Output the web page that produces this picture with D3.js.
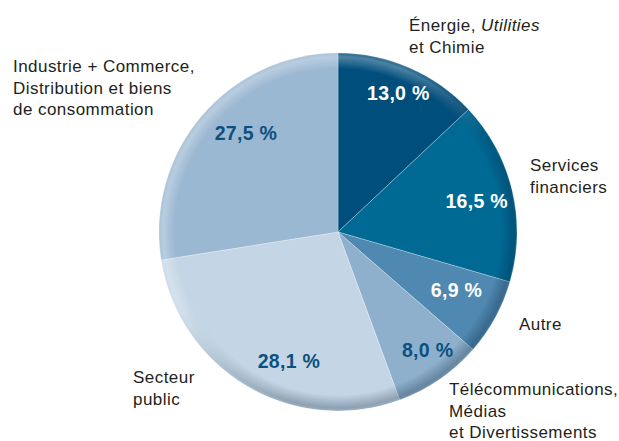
<!DOCTYPE html>
<html lang="fr">
<head>
<meta charset="utf-8">
<script src="https://cdn.jsdelivr.net/npm/d3@7"></script>
<style>
  html, body { margin: 0; padding: 0; background: #fff; }
  svg { display: block; }
  text { font-family: "Liberation Sans", Arial, Helvetica, sans-serif; }
</style>
</head>
<body>
<svg id="chart" width="619" height="441"></svg>
<script>
// Répartition par secteur (en %), sens horaire depuis midi
const sectors = [
  "Énergie, Utilities et Chimie",
  "Services financiers",
  "Autre",
  "Télécommunications, Médias et Divertissements",
  "Secteur public",
  "Industrie + Commerce, Distribution et biens de consommation"
];
const shares = [13.0, 16.5, 6.9, 8.0, 28.1, 27.5];
const sliceColors = ["#004e7c", "#006a95", "#4f88b1", "#8eb0cc", "#c4d6e5", "#9bb8d2"];
const valueColors = ["#ffffff", "#ffffff", "#ffffff", "#0b507f", "#0b507f", "#0b507f"];

// Libellés de catégorie : lignes (segments [texte, italique])
const categoryLines = [
  [[["Énergie, ", false], ["Utilities", true]], [["et Chimie", false]]],
  [[["Services", false]], [["financiers", false]]],
  [[["Autre", false]]],
  [[["Télécommunications,", false]], [["Médias", false]], [["et Divertissements", false]]],
  [[["Secteur", false]], [["public", false]]],
  [[["Industrie + Commerce,", false]], [["Distribution et biens", false]], [["de consommation", false]]]
];
// Position des libellés de catégorie (coin gauche, première ligne de base)
const categoryPos = [[409, 31], [530, 171], [519, 330], [449, 395], [133, 383], [13, 72]];
// Rayon et décalage angulaire (degrés) des étiquettes de valeur
const valueRadius = [152, 142, 132, 148, 138, 135];
const valueShift = [0, 1, -2.5, -2.7, -9.6, 6.5];

const fmt = v => d3.format(".1f")(v).replace(".", ",") + " %";

const svg = d3.select("#chart");
const cx = 338, cy = 232, R = 179;
const g = svg.append("g").attr("transform", `translate(${cx},${cy})`);

const pie = d3.pie().sort(null).value(d => d);
const arcs = pie(shares);
const arc = d3.arc().innerRadius(0).outerRadius(R);

const defs = svg.append("defs");

// Relief du bord : assombrissement en bas à droite, éclaircissement en haut à gauche
const rimDark = defs.append("radialGradient")
  .attr("id", "rimDark").attr("gradientUnits", "userSpaceOnUse")
  .attr("cx", 0).attr("cy", 0).attr("r", R);
rimDark.append("stop").attr("offset", (R - 16) / R).attr("stop-color", "#001a33").attr("stop-opacity", 0);
rimDark.append("stop").attr("offset", (R - 3) / R).attr("stop-color", "#001a33").attr("stop-opacity", 0.28);
rimDark.append("stop").attr("offset", 1).attr("stop-color", "#001a33").attr("stop-opacity", 0.2);

const rimLight = defs.append("radialGradient")
  .attr("id", "rimLight").attr("gradientUnits", "userSpaceOnUse")
  .attr("cx", 0).attr("cy", 0).attr("r", R);
rimLight.append("stop").attr("offset", (R - 16) / R).attr("stop-color", "#ffffff").attr("stop-opacity", 0);
rimLight.append("stop").attr("offset", (R - 4) / R).attr("stop-color", "#ffffff").attr("stop-opacity", 0.3);
rimLight.append("stop").attr("offset", 1).attr("stop-color", "#ffffff").attr("stop-opacity", 0.15);

const dirGrad = defs.append("linearGradient")
  .attr("id", "dirGrad").attr("gradientUnits", "userSpaceOnUse")
  .attr("x1", -R * 0.7).attr("y1", -R * 0.7).attr("x2", R * 0.7).attr("y2", R * 0.7);
dirGrad.append("stop").attr("offset", 0).attr("stop-color", "#000");
dirGrad.append("stop").attr("offset", 0.35).attr("stop-color", "#000");
dirGrad.append("stop").attr("offset", 0.75).attr("stop-color", "#fff");
dirGrad.append("stop").attr("offset", 1).attr("stop-color", "#fff");

const dirGradInv = defs.append("linearGradient")
  .attr("id", "dirGradInv").attr("gradientUnits", "userSpaceOnUse")
  .attr("x1", -R * 0.7).attr("y1", -R * 0.7).attr("x2", R * 0.7).attr("y2", R * 0.7);
dirGradInv.append("stop").attr("offset", 0).attr("stop-color", "#fff");
dirGradInv.append("stop").attr("offset", 0.3).attr("stop-color", "#fff");
dirGradInv.append("stop").attr("offset", 0.6).attr("stop-color", "#000");
dirGradInv.append("stop").attr("offset", 1).attr("stop-color", "#000");

const maskDark = defs.append("mask").attr("id", "maskDark")
  .attr("maskUnits", "userSpaceOnUse").attr("x", -R).attr("y", -R).attr("width", 2 * R).attr("height", 2 * R);
maskDark.append("circle").attr("r", R).attr("fill", "url(#dirGrad)");
const maskLight = defs.append("mask").attr("id", "maskLight")
  .attr("maskUnits", "userSpaceOnUse").attr("x", -R).attr("y", -R).attr("width", 2 * R).attr("height", 2 * R);
maskLight.append("circle").attr("r", R).attr("fill", "url(#dirGradInv)");

// Secteurs
g.selectAll("path.slice")
  .data(arcs)
  .join("path")
  .attr("class", "slice")
  .attr("d", arc)
  .attr("fill", (d, i) => sliceColors[i])
  .attr("stroke", "rgba(255,255,255,0.45)")
  .attr("stroke-width", 0.6);

// Bord en relief
const ring = d3.arc().innerRadius(R - 18).outerRadius(R).startAngle(0).endAngle(2 * Math.PI);
g.append("path").attr("d", ring()).attr("fill", "url(#rimDark)").attr("mask", "url(#maskDark)");
g.append("path").attr("d", ring()).attr("fill", "url(#rimLight)").attr("mask", "url(#maskLight)");

// Étiquettes de valeur
g.selectAll("text.value")
  .data(arcs)
  .join("text")
  .attr("class", "value")
  .attr("transform", (d, i) => {
    const a = (d.startAngle + d.endAngle) / 2 + valueShift[i] * Math.PI / 180;
    const r = valueRadius[i];
    return `translate(${r * Math.sin(a)},${-r * Math.cos(a)})`;
  })
  .attr("text-anchor", "middle")
  .attr("dy", "0.36em")
  .attr("font-size", 19.5)
  .attr("font-weight", "bold")
  .attr("letter-spacing", 0.3)
  .attr("fill", (d, i) => valueColors[i])
  .text(d => fmt(d.data));

// Libellés de catégorie
const labels = svg.append("g");
categoryLines.forEach((lines, i) => {
  const t = labels.append("text")
    .attr("x", categoryPos[i][0]).attr("y", categoryPos[i][1])
    .attr("font-size", 17).attr("letter-spacing", 0.45).attr("fill", "#231f20");
  lines.forEach((segs, j) => {
    segs.forEach(([txt, ital], k) => {
      const s = t.append("tspan").text(txt).attr("font-style", ital ? "italic" : "normal");
      if (k === 0) s.attr("x", categoryPos[i][0]).attr("dy", j === 0 ? 0 : 21.5);
    });
  });
});
</script>
</body>
</html>
